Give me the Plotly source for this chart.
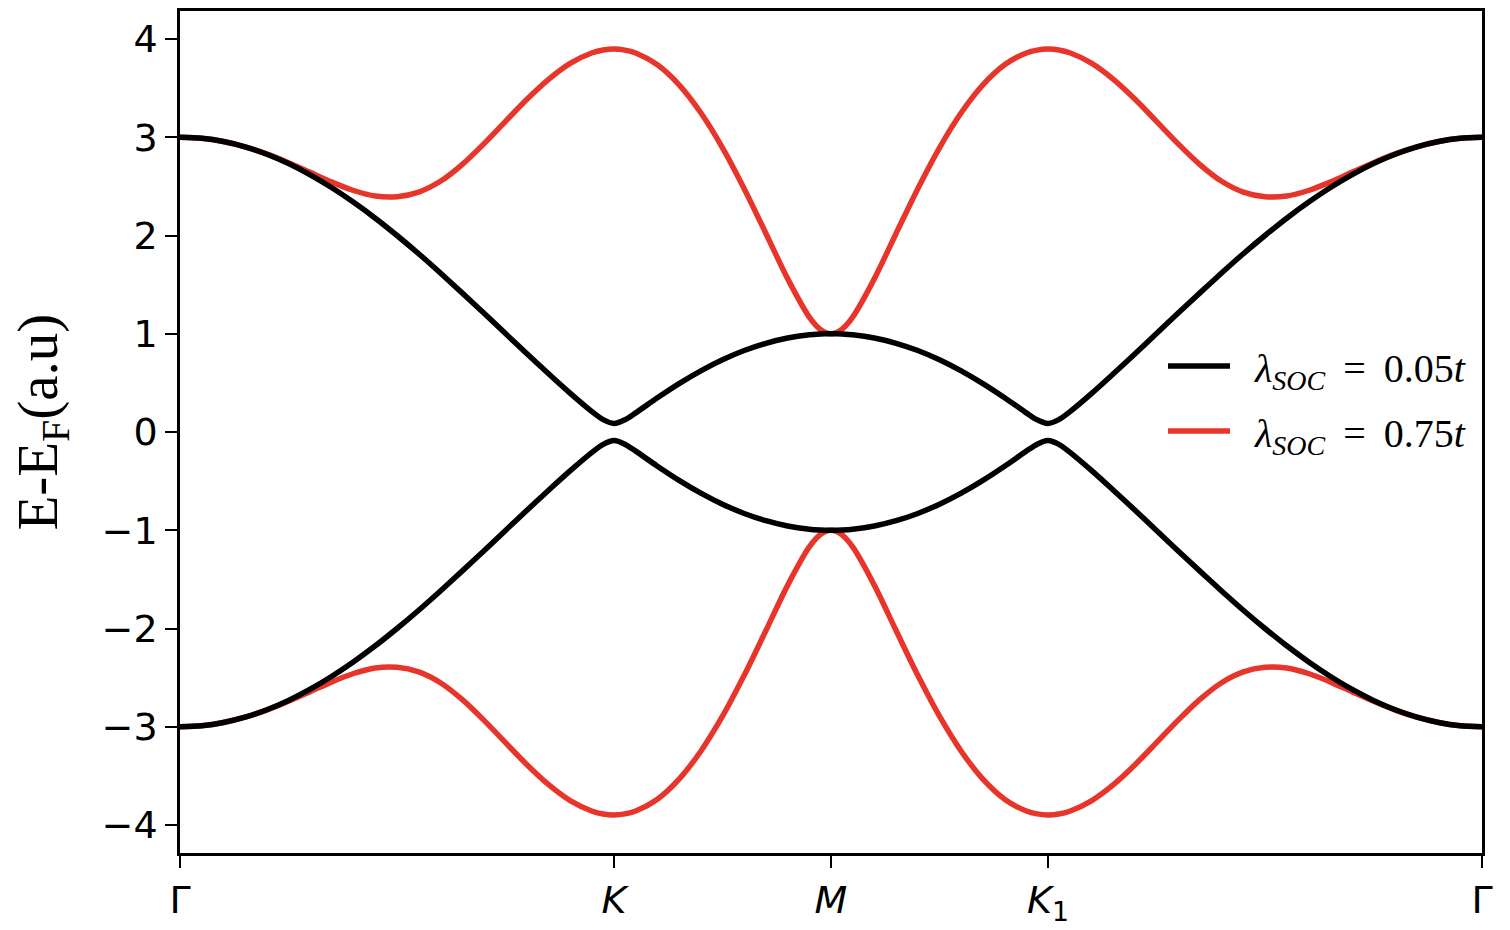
import plotly.graph_objects as go

# k-path coordinate (Γ=0, K=1, M=1.5, K1=2, Γ=3)
k_path = [0, 0.05, 0.1, 0.15, 0.2, 0.25, 0.3, 0.35, 0.4, 0.45, 0.5, 0.55, 0.6, 0.65, 0.7, 0.75,
          0.8, 0.85, 0.9, 0.95, 0.975, 1.0, 1.025, 1.05, 1.1, 1.15, 1.2, 1.25, 1.3, 1.35, 1.4, 1.45,
          1.475, 1.4875, 1.5, 1.5125, 1.525, 1.55, 1.6, 1.65, 1.7, 1.75, 1.8, 1.85, 1.9, 1.95, 1.975,
          2.0, 2.025, 2.05, 2.1, 2.15, 2.2, 2.25, 2.3, 2.35, 2.4, 2.45, 2.5, 2.55, 2.6, 2.65, 2.7,
          2.75, 2.8, 2.85, 2.9, 2.95, 3.0]

# λ_SOC = 0.05t bands
black_upper = [3.000, 2.989, 2.956, 2.902, 2.827, 2.732, 2.618, 2.486, 2.338, 2.176, 2.000, 1.814,
               1.618, 1.416, 1.211, 1.002, 0.794, 0.590, 0.391, 0.205, 0.126, 0.087, 0.124, 0.195,
               0.348, 0.492, 0.622, 0.735, 0.829, 0.903, 0.957, 0.989, 0.997, 0.999, 1.000,
               0.999, 0.997, 0.989, 0.957, 0.903, 0.829, 0.735, 0.622, 0.492, 0.348, 0.195, 0.124,
               0.087, 0.126, 0.205, 0.391, 0.590, 0.794, 1.002, 1.211, 1.416, 1.618, 1.814, 2.000,
               2.176, 2.338, 2.486, 2.618, 2.732, 2.827, 2.902, 2.956, 2.989, 3.000]
black_lower = [-3.000, -2.989, -2.956, -2.902, -2.827, -2.732, -2.618, -2.486, -2.338, -2.176, -2.000,
               -1.814, -1.618, -1.416, -1.211, -1.002, -0.794, -0.590, -0.391, -0.205, -0.126, -0.087,
               -0.124, -0.195, -0.348, -0.492, -0.622, -0.735, -0.829, -0.903, -0.957, -0.989, -0.997,
               -0.999, -1.000, -0.999, -0.997, -0.989, -0.957, -0.903, -0.829, -0.735, -0.622, -0.492,
               -0.348, -0.195, -0.124, -0.087, -0.126, -0.205, -0.391, -0.590, -0.794, -1.002, -1.211,
               -1.416, -1.618, -1.814, -2.000, -2.176, -2.338, -2.486, -2.618, -2.732, -2.827, -2.902,
               -2.956, -2.989, -3.000]

# λ_SOC = 0.75t bands
red_upper = [3.000, 2.989, 2.956, 2.902, 2.830, 2.741, 2.643, 2.543, 2.458, 2.402, 2.395, 2.442,
             2.552, 2.722, 2.933, 3.162, 3.389, 3.592, 3.754, 3.860, 3.888, 3.897, 3.887, 3.858,
             3.737, 3.533, 3.249, 2.893, 2.477, 2.021, 1.561, 1.170, 1.045, 1.012, 1.000,
             1.012, 1.045, 1.170, 1.561, 2.021, 2.477, 2.893, 3.249, 3.533, 3.737, 3.858, 3.887,
             3.897, 3.888, 3.860, 3.754, 3.592, 3.389, 3.162, 2.933, 2.722, 2.552, 2.442, 2.395,
             2.402, 2.458, 2.543, 2.643, 2.741, 2.830, 2.902, 2.956, 2.989, 3.000]
red_lower = [-3.000, -2.989, -2.956, -2.902, -2.830, -2.741, -2.643, -2.543, -2.458, -2.402, -2.395,
             -2.442, -2.552, -2.722, -2.933, -3.162, -3.389, -3.592, -3.754, -3.860, -3.888, -3.897,
             -3.887, -3.858, -3.737, -3.533, -3.249, -2.893, -2.477, -2.021, -1.561, -1.170, -1.045,
             -1.012, -1.000, -1.012, -1.045, -1.170, -1.561, -2.021, -2.477, -2.893, -3.249, -3.533,
             -3.737, -3.858, -3.887, -3.897, -3.888, -3.860, -3.754, -3.592, -3.389, -3.162, -2.933,
             -2.722, -2.552, -2.442, -2.395, -2.402, -2.458, -2.543, -2.643, -2.741, -2.830, -2.902,
             -2.956, -2.989, -3.000]

x_tick_vals = [0, 1, 1.5, 2, 3]
x_tick_text = ["Γ", "<i>K</i>", "<i>M</i>", "<i>K</i><sub>1</sub>", "Γ"]
y_tick_vals = [-4, -3, -2, -1, 0, 1, 2, 3, 4]
y_tick_text = ["−4", "−3", "−2", "−1", "0", "1", "2", "3", "4"]
y_title = "E-E<sub>F</sub>(a.u)"

label_black = "\u00a0\u00a0<i>λ</i><sub><i>SOC</i></sub> \u2009=\u2009 0.05<i>t</i>"
label_red = "\u00a0\u00a0<i>λ</i><sub><i>SOC</i></sub> \u2009=\u2009 0.75<i>t</i>"

RED = "#e8352b"
BLACK = "#000000"

fig = go.Figure()
line_kw = dict(shape="spline", smoothing=0.8)
fig.add_trace(go.Scatter(x=k_path, y=red_upper, mode="lines", name=label_red,
                         line=dict(color=RED, width=5.5, **line_kw), legendgroup="red", legendrank=2))
fig.add_trace(go.Scatter(x=k_path, y=red_lower, mode="lines", name=label_red, showlegend=False,
                         line=dict(color=RED, width=5.5, **line_kw), legendgroup="red"))
fig.add_trace(go.Scatter(x=k_path, y=black_upper, mode="lines", name=label_black,
                         line=dict(color=BLACK, width=5.5, **line_kw), legendgroup="black", legendrank=1))
fig.add_trace(go.Scatter(x=k_path, y=black_lower, mode="lines", name=label_black, showlegend=False,
                         line=dict(color=BLACK, width=5.5, **line_kw), legendgroup="black"))

fig.update_layout(
    width=1502, height=922,
    margin=dict(l=172, r=28, t=0, b=77),
    plot_bgcolor="white", paper_bgcolor="white",
    legend=dict(x=(1163 - 180) / 1302, xanchor="left", y=0.617, yanchor="top",
                font=dict(family="Liberation Serif", size=40, color="black"),
                bgcolor="rgba(0,0,0,0)", itemwidth=62, tracegroupgap=10),
    font=dict(family="DejaVu Sans", color="black"),
)
fig.add_annotation(text=y_title, xref="paper", yref="paper",
                   x=(42 - 180) / 1302, y=(853 - 421) / 845, xanchor="center", yanchor="middle",
                   textangle=-90, showarrow=False, borderpad=0,
                   font=dict(family="Liberation Serif", size=57, color="black"))
fig.update_xaxes(range=[0, 3], tickmode="array", tickvals=x_tick_vals, ticktext=x_tick_text,
                 showgrid=False, zeroline=False, showline=True, mirror=True, linecolor="black",
                 linewidth=2.5, ticks="outside", ticklen=12, tickwidth=2, tickcolor="black",
                 tickfont=dict(family="DejaVu Sans", size=38, color="black"))
fig.update_yaxes(range=[-4.285, 4.285], tickmode="array", tickvals=y_tick_vals, ticktext=y_tick_text,
                 showgrid=False, zeroline=False, showline=True, mirror=True, linecolor="black",
                 linewidth=2.5, ticks="outside", ticklen=12, tickwidth=2, tickcolor="black",
                 tickfont=dict(family="DejaVu Sans", size=38, color="black"))

fig.write_html("out.html")
